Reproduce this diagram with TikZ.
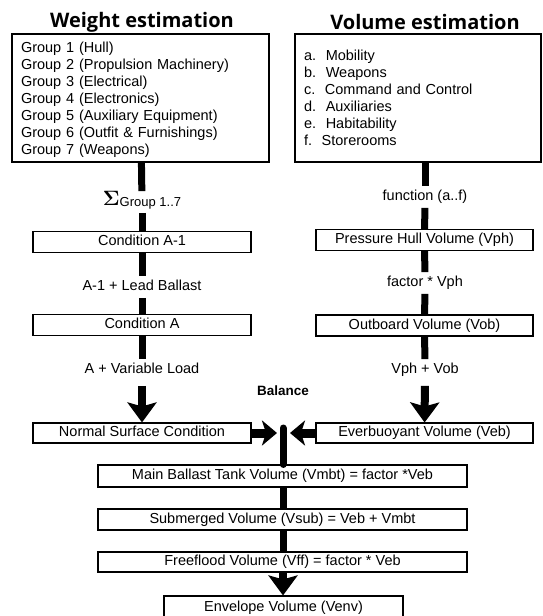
\documentclass[tikz,border=0pt]{standalone}
\usepackage{amsmath}
\usepackage[no-math]{fontspec}
\setmainfont{Liberation Sans}
\newfontfamily\headfont{Open Sans}
\usetikzlibrary{arrows.meta}

\begin{document}
\begin{tikzpicture}[x=1pt,y=-1pt,
  every node/.style={font=\fontsize{14.5}{17}\selectfont},
  box/.style={draw, line width=1.1pt, fill=white, inner sep=0pt, text height=10.5pt, text depth=3pt},
  listbox/.style={draw, line width=1.1pt, inner xsep=9pt, inner ysep=0pt, align=left},
  lbl/.style={inner xsep=0pt, inner ysep=4pt, text height=10.5pt, text depth=3pt},
  head/.style={font=\headfont\bfseries\fontsize{20}{20}\selectfont},
  bar/.style={line width=7pt},
  bigarrow/.style={line width=8pt, -{Stealth[length=20pt,width=29pt,inset=4pt]}},
  sidearrow/.style={line width=9pt, -{Stealth[length=15pt,width=25pt,inset=4pt]}}]

  \useasboundingbox (0,0) rectangle (543,616);

  % headings
  \node[head] (w-title) at (142,22) {Weight estimation};
  \node[head] (v-title) at (425,22) {Volume estimation};

  % input lists
  \node[listbox, text width=239pt, minimum height=128pt] (groups) at (140.5,98)
    {\rule{0pt}{14.6pt}Group 1 (Hull)\\ Group 2 (Propulsion Machinery)\\ Group 3 (Electrical)\\
     Group 4 (Electronics)\\ Group 5 (Auxiliary Equipment)\\
     Group 6 (Outfit \& Furnishings)\\ Group 7 (Weapons)};
  \node[listbox, text width=228pt, minimum height=128pt] (items) at (418,98)
    {a.~~Mobility\\ b.~~Weapons\\ c.~~Command and Control\\
     d.~~Auxiliaries\\ e.~~Habitability\\ f.~~Storerooms};

  % weight column
  \node[lbl] (sum) at (142,202)
    {{\fontsize{21}{21}\selectfont$\mathbf{\Sigma}$}\raisebox{-1pt}{\fontsize{13}{13}\selectfont Group 1..7}};
  \node[box, minimum width=218pt, minimum height=21pt] (cond-a1) at (142,242) {Condition A-1};
  \node[lbl] (lead) at (142,287) {A-1 + Lead Ballast};
  \node[box, minimum width=218pt, minimum height=21pt] (cond-a) at (142,325) {Condition A};
  \node[lbl] (varload) at (142,370) {A + Variable Load};
  \node[box, minimum width=218pt, minimum height=20pt] (normal) at (142,433) {Normal Surface Condition};

  \draw[bar] (groups) -- (sum);
  \draw[bar] (sum) -- (cond-a1);
  \draw[bar] (cond-a1) -- (lead);
  \draw[bar] (lead) -- (cond-a);
  \draw[bar] (cond-a) -- (varload);
  \draw[bigarrow, shorten <=5pt] (varload) -- (normal);

  % volume column
  \node[lbl] (func) at (425,197) {function (a..f)};
  \node[box, minimum width=217pt, minimum height=21pt] (vph) at (424.5,240) {Pressure Hull Volume (Vph)};
  \node[lbl] (fvph) at (425,283) {factor * Vph};
  \node[box, minimum width=217pt, minimum height=21pt] (vob) at (424.5,325.5) {Outboard Volume (Vob)};
  \node[lbl] (vphvob) at (425,370) {Vph + Vob};
  \node[box, minimum width=217pt, minimum height=20pt] (veb) at (424.5,433) {Everbuoyant Volume (Veb)};

  \draw[bar] (items.south -| func) -- (func);
  \draw[bar] (func) -- (vph);
  \draw[bar] (vph) -- (fvph);
  \draw[bar] (fvph) -- (vob);
  \draw[bar] (vob) -- (vphvob);
  \draw[bigarrow, shorten <=5pt] (vphvob) -- (veb);

  % balance
  \node[font=\bfseries\fontsize{13.5}{13.5}\selectfont] (balance) at (283,391) {Balance};
  \coordinate (junc) at (283,428);
  \coordinate (in-l) at (277,433);
  \coordinate (in-r) at (290,433);
  \draw[sidearrow] (normal.east) -- (in-l);
  \draw[sidearrow] (veb.west) -- (in-r);

  % common column
  \node[box, minimum width=369pt, minimum height=22pt] (mbt) at (282.5,476) {Main Ballast Tank Volume (Vmbt) = factor *Veb};
  \node[box, minimum width=369pt, minimum height=21pt] (vsub) at (282.5,519.5) {Submerged Volume (Vsub) = Veb + Vmbt};
  \node[box, minimum width=369pt, minimum height=20pt] (vff) at (282.5,562) {Freeflood Volume (Vff) = factor * Veb};
  \node[box, minimum width=239pt, minimum height=24pt] (venv) at (283.5,608) {Envelope Volume (Venv)};

  \draw[bar, line cap=round] (junc) -- (junc |- mbt.north);
  \draw[bar] (mbt.south -| junc) -- (vsub.north -| junc);
  \draw[bar] (vsub.south -| junc) -- (vff.north -| junc);
  \draw[bigarrow] (vff.south -| junc) -- (venv.north -| junc);

\end{tikzpicture}
\end{document}
